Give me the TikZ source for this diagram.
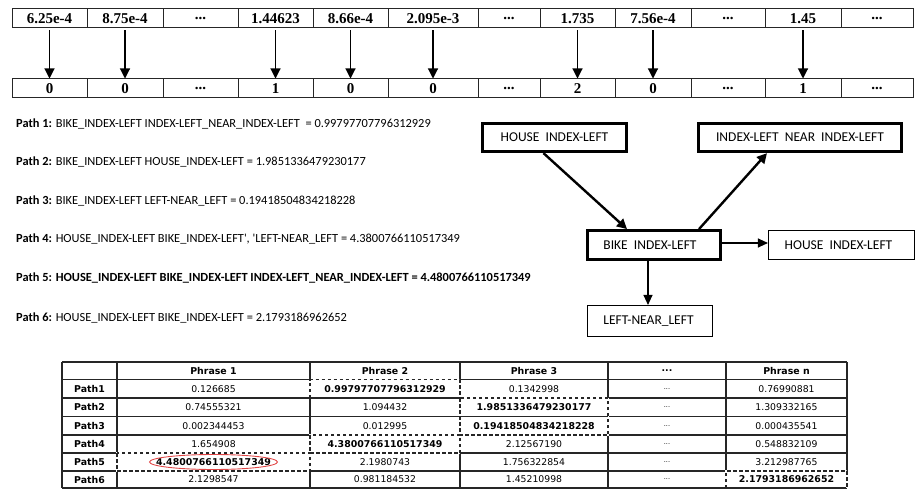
\documentclass[tikz,border=0pt]{standalone}
\usepackage{fontspec}
\setmainfont{Liberation Serif}
\newfontfamily\calfont{Carlito}
\newfontfamily\tabfont{DejaVu Sans}
\usetikzlibrary{arrows.meta}
\newcommand{\tdots}{...}
\begin{document}
\begin{tikzpicture}[x=1pt,y=-1pt,
  topcell/.style={draw=black!85, line width=1pt, minimum height=19pt, inner sep=0pt,
    font=\fontsize{15}{15}\selectfont\bfseries},
  downarr/.style={line width=1.1pt, -{Triangle[width=10pt,length=10pt]}},
  thickbox/.style={draw, line width=2.8pt, inner sep=0pt, font=\calfont\fontsize{13.5}{14}\selectfont},
  thinbox/.style={draw, line width=1.1pt, inner sep=0pt, font=\calfont\fontsize{13.5}{14}\selectfont},
  thickarr/.style={line width=2.4pt, -{Triangle[width=10pt,length=10pt]}},
  thinarr/.style={line width=1.1pt, -{Triangle[width=9pt,length=10pt]}},
  pathtxt/.style={anchor=base west, inner sep=0pt, font=\calfont\fontsize{12.4}{14}\selectfont},
  tcell/.style={inner sep=0pt, font=\tabfont\fontsize{9.3}{10}\selectfont},
  tgrid/.style={line width=1.1pt, draw=black!85},
  tdash/.style={line width=1.1pt, draw=black!85, dash pattern=on 3.5pt off 2.5pt},
  twhite/.style={line width=1.8pt, draw=white}
]
\useasboundingbox (0,0) rectangle (916,489);

% ---------- top rows ----------
\foreach \l/\r/\a/\b [count=\i] in {12/87/6.25e-4/0, 87/163/8.75e-4/0, 163/238/\tdots/\tdots, 238/313/1.44623/1, 313/388/8.66e-4/0, 388/478/2.095e-3/0, 478/540/\tdots/\tdots, 540/615/1.735/2, 615/691/7.56e-4/0, 691/765/\tdots/\tdots, 765/841/1.45/1, 841/913/\tdots/\tdots}
{
  \node[topcell, minimum width={(\r-\l)*1pt}] (t\i) at ({(\l+\r)/2},18.5) {\a};
  \node[topcell, minimum width={(\r-\l)*1pt}] (b\i) at ({(\l+\r)/2},88.5) {\b};
}
\foreach \i in {1,2,4,5,6,8,9,11}
  \draw[downarr] ([yshift=-2pt]t\i.south) -- (b\i.north);

% ---------- path texts ----------
\node[pathtxt] (p1) at (16,128) {\textbf{Path 1:} BIKE\_INDEX-LEFT INDEX-LEFT\_NEAR\_INDEX-LEFT \ = 0.99797707796312929};
\node[pathtxt] (p2) at (16,166) {\textbf{Path 2:} BIKE\_INDEX-LEFT HOUSE\_INDEX-LEFT = 1.9851336479230177};
\node[pathtxt] (p3) at (16,205) {\textbf{Path 3:} BIKE\_INDEX-LEFT LEFT-NEAR\_LEFT = 0.19418504834218228};
\node[pathtxt] (p4) at (16,243) {\textbf{Path 4:} HOUSE\_INDEX-LEFT BIKE\_INDEX-LEFT\textquotesingle, \textquotesingle LEFT-NEAR\_LEFT = 4.3800766110517349};
\node[pathtxt] (p5) at (16,282) {\textbf{Path 5: HOUSE\_INDEX-LEFT BIKE\_INDEX-LEFT INDEX-LEFT\_NEAR\_INDEX-LEFT = 4.4800766110517349}};
\node[pathtxt] (p6) at (16,321) {\textbf{Path 6:} HOUSE\_INDEX-LEFT BIKE\_INDEX-LEFT = 2.1793186962652};

% ---------- graph ----------
\node[thickbox, minimum width=144pt, minimum height=28.5pt] (hil) at (554.5,137.5) {HOUSE~~INDEX-LEFT};
\node[thickbox, minimum width=203pt, minimum height=28.5pt] (inl) at (800,137.5) {INDEX-LEFT~~NEAR~~INDEX-LEFT};
\node[thickbox, minimum width=133pt, minimum height=29pt] (bike) at (654,245) {\hspace*{-8pt}BIKE~~INDEX-LEFT};
\node[thinbox, minimum width=146pt, minimum height=29pt] (hr) at (841.5,245) {\hspace*{-6pt}HOUSE~~INDEX-LEFT};
\node[thinbox, minimum width=125pt, minimum height=31pt] (lnl) at (650,321) {\hspace*{-3pt}LEFT-NEAR\_LEFT};

\draw[thickarr] ([xshift=-11pt]hil.south) -- ([xshift=-27pt]bike.north);
\draw[thickarr] ([xshift=45pt]bike.north) -- ([xshift=-33pt]inl.south);
\draw[thinarr] ([yshift=2pt]bike.east) -- ([yshift=2pt]hr.west);
\draw[thinarr] ([xshift=-6pt]bike.south) -- ([xshift=-2pt]lnl.north);

% ---------- table ----------
\def\XA{62}\def\XB{117}\def\XC{310}\def\XD{460}\def\XE{608}\def\XF{726}\def\XG{847}
\def\YA{362}\def\YB{379.5}\def\YC{398}\def\YD{416.5}\def\YE{435}\def\YF{453}\def\YG{471}\def\YH{488}
\foreach \x in {\XA,\XB,\XC,\XD,\XE,\XF,\XG} \draw[tgrid] (\x,\YA) -- (\x,\YH);
\foreach \y in {\YA,\YB,\YC,\YD,\YE,\YF,\YG,\YH} \draw[tgrid] (\XA,\y) -- (\XG,\y);

% dashed highlights: white under, dashed over
\foreach \sty in {twhite,tdash}{
  \draw[\sty] (\XC,\YC) -- (\XC,\YB) -- (\XD,\YB) -- (\XD,\YC);
  \draw[\sty] (\XD,\YC) rectangle (\XE,\YE);
  \draw[\sty] (\XC,\YE) rectangle (\XD,\YF);
  \draw[\sty] (\XB,\YF) rectangle (\XC,\YG);
  \draw[\sty] (\XF,\YH) -- (\XF,\YG) -- (\XG,\YG) -- (\XG,\YH);
}
\draw[tgrid] (\XD,\YD) -- (\XE,\YD);

\newcommand{\hb}[1]{{\fontsize{9.4}{10}\selectfont\bfseries #1}}
\newcommand{\sdots}{{\fontsize{6.5}{6.5}\selectfont \tdots}}
% header
\node[tcell] (h2) at (213.5,370.75) {\hb{Phrase 1}};
\node[tcell] (h3) at (385,370.75) {\hb{Phrase 2}};
\node[tcell] (h4) at (534,370.75) {\hb{Phrase 3}};
\node[tcell] (h5) at (667,370.75) {\hb{\tdots}};
\node[tcell] (h6) at (786.5,370.75) {\hb{Phrase n}};
\foreach \yc/\n/\a/\b/\c/\e [count=\k] in {
  388.75/Path1/0.126685/\hb{0.99797707796312929}/0.1342998/0.76990881,
  407.25/Path2/0.74555321/1.094432/\hb{1.9851336479230177}/1.309332165,
  425.75/Path3/0.002344453/0.012995/\hb{0.19418504834218228}/0.000435541,
  444/Path4/1.654908/\hb{4.3800766110517349}/2.12567190/0.548832109,
  462/Path5/\hb{4.4800766110517349}/2.1980743/1.756322854/3.212987765,
  479.5/Path6/2.1298547/0.981184532/1.45210998/\hb{2.1793186962652}}
{
  \node[tcell] (r\k-c1) at (89.5,\yc) {\hb{\n}};
  \node[tcell] (r\k-c2) at (213.5,\yc) {\a};
  \node[tcell] (r\k-c3) at (385,\yc) {\b};
  \node[tcell] (r\k-c4) at (534,\yc) {\c};
  \node[tcell] (r\k-c5) at (667,\yc) {\sdots};
  \node[tcell] (r\k-c6) at (786.5,\yc) {\e};
}
\draw[line width=0.9pt, draw={rgb,255:red,225;green,70;blue,70}] (r5-c2.center) ellipse [x radius=64pt, y radius=7.5pt];
\end{tikzpicture}
\end{document}
